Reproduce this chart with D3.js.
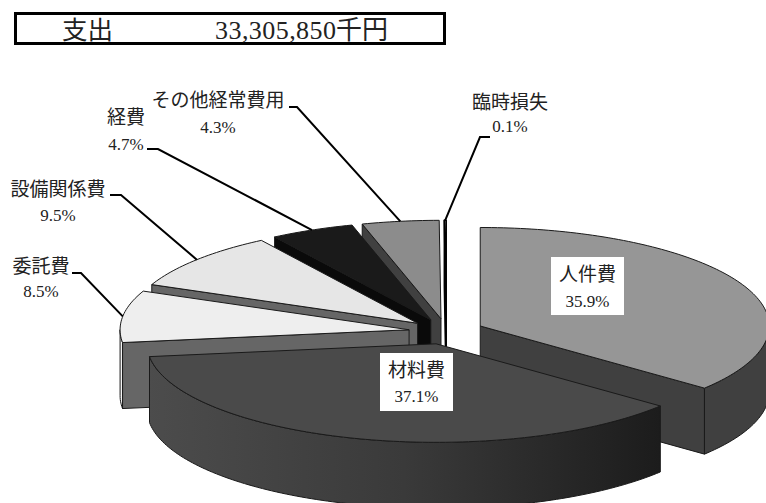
<!DOCTYPE html>
<html>
<head>
<meta charset="utf-8">
<script src="https://cdn.jsdelivr.net/npm/d3@7"></script>
<style>
html,body{margin:0;padding:0;background:#fff;overflow:hidden;}
text{font-family:"Liberation Serif","Noto Sans CJK JP",serif;fill:#222;}
</style>
</head>
<body>
<script>
// data
var categories = ["人件費","材料費","委託費","設備関係費","経費","その他経常費用","臨時損失"];
var shares = [35.9,37.1,8.5,9.5,4.7,4.3,0.1];
var titleLabel = "支出";
var titleValue = "33,305,850";
var titleUnit = "千円";

// grey shades per slice: top, cut wall, outer wall
var topFill = ["#969696","#4a4a4a","#eeeeee","#e6e6e6","#1a1a1a","#8c8c8c","#ffffff"];
var wallFill = ["#404040","#4a4a4a","#666666","#666666","#0a0a0a","#404040","#ffffff"];
var outerFill = ["#404040","url(#sideGrad)","#f4f4f4","#666666","#0a0a0a","#404040","#ffffff"];

var w = 766, h = 503;
var cx = 446.3, cy = 331.5;  // pie centre before the explode
var rx = 289, ry = 98.5, depth = 66, explode = 0.13;

var svg = d3.select("body").append("svg").attr("width",w).attr("height",h);

var grad = svg.append("defs").append("linearGradient").attr("id","sideGrad")
	.attr("gradientUnits","userSpaceOnUse")
	.attr("x1",148).attr("x2",660).attr("y1",0).attr("y2",0);
grad.append("stop").attr("offset",0).attr("stop-color","#4c4c4c");
grad.append("stop").attr("offset",0.5).attr("stop-color","#3a3a3a");
grad.append("stop").attr("offset",1).attr("stop-color","#1c1c1c");

var xs = d3.scaleLinear().domain([-1,1]).range([-rx,rx]);
var ys = d3.scaleLinear().domain([-1,1]).range([-ry,ry]);

var pie = d3.pie().sort(null).value(function(d){ return d; });
var arcs = pie(shares);
var line = d3.line();

// point on the tilted disc of a slice
function pt(d,a,r,down){
	var m = (d.startAngle + d.endAngle)/2;
	return [
		cx + xs(explode*Math.sin(m)) + xs(r*Math.sin(a)),
		cy + ys(-explode*Math.cos(m)) + ys(-r*Math.cos(a)) + (down||0)
	];
}
function rimAngles(a0,a1){
	var n = Math.max(2,Math.ceil((a1-a0)/0.02));
	return d3.range(n+1).map(function(i){ return a0 + (a1-a0)*i/n; });
}

var order = [6,5,4,3,2,0,1];  // back to front
var g = svg.append("g").attr("stroke","#1a1a1a").attr("stroke-width",1).attr("stroke-linejoin","round");

order.forEach(function(i){
	var d = arcs[i];
	var s = g.append("g");
	if(i == 6) s.attr("stroke","#000").attr("stroke-width",1.6);
	// cut walls, only the one that faces the viewer
	var cuts = [];
	if(d.startAngle > Math.PI) cuts.push(d.startAngle);
	if(d.endAngle < Math.PI) cuts.push(d.endAngle);
	cuts.forEach(function(a){
		var wall = [pt(d,a,0),pt(d,a,1),pt(d,a,1,depth),pt(d,a,0,depth)];
		s.append("path").attr("d",line(wall)+"Z").attr("fill",wallFill[i]);
	});
	// outer wall, only the part facing the viewer
	var a0 = Math.max(d.startAngle,Math.PI/2), a1 = Math.min(d.endAngle,Math.PI*1.5);
	if(a1 > a0){
		var ang = rimAngles(a0,a1);
		var upper = ang.map(function(a){ return pt(d,a,1); });
		var lower = ang.slice().reverse().map(function(a){ return pt(d,a,1,depth); });
		s.append("path").attr("d",line(upper.concat(lower))+"Z").attr("fill",outerFill[i]);
	}
	// top face
	var rim = rimAngles(d.startAngle,d.endAngle).map(function(a){ return pt(d,a,1); });
	s.append("path").attr("d",line([pt(d,d.startAngle,0)].concat(rim))+"Z").attr("fill",topFill[i]);
});

// title box
svg.append("rect").attr("x",15.5).attr("y",13.5).attr("width",429).attr("height",30)
	.attr("fill","#fff").attr("stroke","#000").attr("stroke-width",3);
svg.append("text").attr("x",62).attr("y",39).attr("font-size",25.5).text(titleLabel);
svg.append("text").attr("x",215).attr("y",39).attr("font-size",26)
	.attr("textLength",121).attr("lengthAdjust","spacing").text(titleValue);
svg.append("text").attr("x",336).attr("y",39).attr("font-size",26).text(titleUnit);

// outer labels with leaders
var outerLabels = [
	{i:5,x:218,y:107,yp:133,x0:289,x1:297,yl:107},
	{i:4,x:126,y:124,yp:150,x0:147,x1:158,yl:149},
	{i:3,x:58,y:196,yp:221,x0:110,x1:121,yl:195},
	{i:2,x:41,y:273,yp:297,x0:72,x1:81,yl:273},
	{i:6,x:510,y:109,yp:132,x0:490,x1:480,yl:137}
];
outerLabels.forEach(function(l){
	var d = arcs[l.i], m = (d.startAngle+d.endAngle)/2;
	svg.append("path").attr("fill","none").attr("stroke","#000").attr("stroke-width",2)
		.attr("d",line([[l.x0,l.yl],[l.x1,l.yl],pt(d,m,1)]));
	svg.append("text").attr("x",l.x).attr("y",l.y).attr("text-anchor","middle")
		.attr("font-size",19).text(categories[l.i]);
	svg.append("text").attr("x",l.x).attr("y",l.yp).attr("text-anchor","middle")
		.attr("font-size",17).text(shares[l.i].toFixed(1)+"%");
});

// labels on the two big slices
var innerLabels = [
	{i:0,x:551,y:257,dp:50},
	{i:1,x:380,y:353,dp:49}
];
innerLabels.forEach(function(l){
	svg.append("rect").attr("x",l.x).attr("y",l.y).attr("width",73).attr("height",58).attr("fill","#fff");
	svg.append("text").attr("x",l.x+36.5).attr("y",l.y+24).attr("text-anchor","middle")
		.attr("font-size",19).text(categories[l.i]);
	svg.append("text").attr("x",l.x+36.5).attr("y",l.y+l.dp).attr("text-anchor","middle")
		.attr("font-size",17).text(shares[l.i].toFixed(1)+"%");
});
</script>
</body>
</html>
